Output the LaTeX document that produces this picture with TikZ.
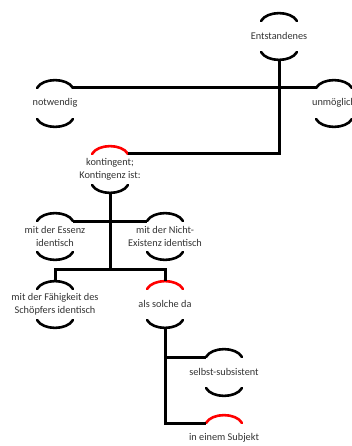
\documentclass[tikz,border=0pt]{standalone}
\usepackage{fontspec}
\setmainfont{Carlito}
\tikzset{
  arcline/.style={line width=2.6pt, line cap=round},
  link/.style={line width=3pt},
  conceptlabel/.style={align=center, font=\fontsize{10.3}{13}\selectfont, text=black!80, inner sep=0pt},
}
\newcommand\concept[6]{% name, cx, t, top colour, bottom colour, text
  \node[conceptlabel] (#1) at (#2,#3+23) {#6};
  \coordinate (#1-tl) at (#2-18,#3+8);
  \coordinate (#1-tr) at (#2+18,#3+8);
  \coordinate (#1-tc) at (#2,#3);
  \coordinate (#1-bl) at (#2-18,#3+39);
  \coordinate (#1-br) at (#2+18,#3+39);
  \coordinate (#1-bc) at (#2,#3+47);
  \draw[arcline,#4] (#1-tl) .. controls +(6,-10.5) and +(-6,-10.5) .. (#1-tr);
  \draw[arcline,#5] (#1-bl) .. controls +(6,10.5) and +(-6,10.5) .. (#1-br);
}
\begin{document}
\begin{tikzpicture}[x=1pt,y=-1pt]
\useasboundingbox (0,0) rectangle (352,446);
\clip (0,0) rectangle (352,446);
\concept{ent}{279}{13}{black}{black}{Entstandenes}
\concept{not}{55}{80}{black}{black}{notwendig}
\concept{unm}{334}{80}{black}{black}{unmöglich}
\concept{kon}{110}{146}{red}{black}{kontingent;\\Kontingenz ist:}
\concept{ess}{55}{213}{black}{black}{mit der Essenz\\identisch}
\concept{nex}{165}{213}{black}{black}{mit der Nicht-\\Existenz identisch}
\concept{fae}{55}{281}{black}{black}{mit der Fähigkeit des\\Schöpfers identisch}
\concept{als}{165}{281}{red}{black}{als solche da}
\concept{sel}{224}{349}{black}{black}{selbst-subsistent}
\concept{sub}{224}{415}{red}{black}{in einem Subjekt}
\coordinate (j2) at (110,269);
\draw[link] (not-tr) -- (unm-tl);
\draw[link] (ent-bc) |- (kon-tr);
\draw[link] (kon-bc) -- (j2);
\draw[link] (ess-tr) -- (nex-tl);
\draw[link] (fae-tc) |- (j2) -| (als-tc);
\draw[link] (als-bc) |- (sel-tl);
\draw[link] (als-bc) |- (sub-tl);
\end{tikzpicture}
\end{document}
